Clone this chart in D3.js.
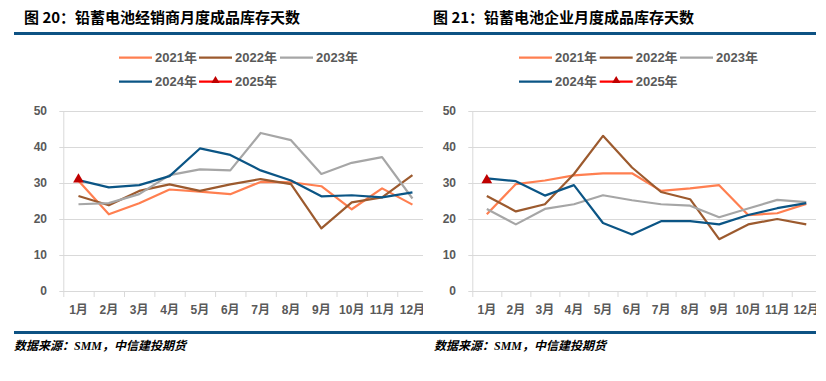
<!DOCTYPE html>
<html><head><meta charset="utf-8">
<script src="https://cdn.jsdelivr.net/npm/d3@7"></script>
<style>
body{margin:0;background:#fff;}
svg{display:block;}
</style>
</head><body>
<svg id="c" width="826" height="381"></svg>
<script>
const months = ["1月","2月","3月","4月","5月","6月","7月","8月","9月","10月","11月","12月"];
const yTicks = [0,10,20,30,40,50];
const seriesNames = ["2021年","2022年","2023年","2024年","2025年"];
const seriesColors = ["#FF7F50","#9C5A2E","#A6A6A6","#0B5585","#C00000"];

// 图20 经销商
const dealer2021 = [30.6,21.3,24.4,28.2,27.6,26.9,30.3,30.2,29.1,22.7,28.5,24.0];
const dealer2022 = [26.4,23.8,27.8,29.6,27.8,29.6,31.1,29.7,17.4,24.6,26.0,32.2];
const dealer2023 = [24.1,24.4,26.9,32.2,33.8,33.5,43.9,41.9,32.5,35.6,37.2,25.7];
const dealer2024 = [30.8,28.8,29.4,31.9,39.6,37.8,33.5,30.7,26.3,26.6,26.0,27.4];
const dealer2025 = [31.0];

// 图21 企业
const firm2021 = [21.3,29.7,30.7,32.1,32.7,32.7,27.8,28.5,29.4,21.1,21.6,24.2];
const firm2022 = [26.4,22.1,24.1,32.5,43.1,34.3,27.5,25.5,14.4,18.5,20.0,18.5];
const firm2023 = [22.8,18.5,22.8,24.1,26.6,25.2,24.1,23.7,20.5,22.9,25.3,24.7];
const firm2024 = [31.3,30.5,26.5,29.4,18.9,15.7,19.4,19.4,18.5,21.1,23.0,24.4];
const firm2025 = [30.8];

const titles = ["图 20：铅蓄电池经销商月度成品库存天数","图 21：铅蓄电池企业月度成品库存天数"];
const sourceText = "数据来源：SMM，中信建投期货";

const svg = d3.select("#c");
const FONT = "'Liberation Sans','Noto Sans CJK SC',sans-serif";
const GRAY = "#595959";

// header and footer rules
svg.append("line").attr("x1",14).attr("x2",816).attr("y1",33.5).attr("y2",33.5)
  .attr("stroke","#0D5283").attr("stroke-width",3);
svg.append("line").attr("x1",14).attr("x2",816).attr("y1",332.5).attr("y2",332.5)
  .attr("stroke","#0D5283").attr("stroke-width",3);

const panels = [
  {title:titles[0], tx:24, sx:14, data:[dealer2021,dealer2022,dealer2023,dealer2024,dealer2025],
   x0:63.3, bw:30.36, clip:[0,423], legX:[119,199,280], tickEnd:47},
  {title:titles[1], tx:433, sx:434, data:[firm2021,firm2022,firm2023,firm2024,firm2025],
   x0:472.3, bw:29.04, clip:[423,816], legX:[519,599.7,680], tickEnd:456}
];

panels.forEach((p,pi)=>{
  svg.append("text").attr("x",p.tx).attr("y",22.5).text(p.title)
    .attr("font-family","'Noto Sans CJK SC',sans-serif").attr("font-weight","bold")
    .attr("font-size",15).attr("fill","#000");
  svg.append("text").attr("x",p.sx).attr("y",350).text(sourceText)
    .attr("font-family","'Liberation Serif','Noto Sans CJK SC',serif").attr("font-style","italic")
    .attr("font-weight","bold").attr("font-size",12).attr("fill","#000");

  const cid = "clip"+pi;
  svg.append("clipPath").attr("id",cid).append("rect")
    .attr("x",p.clip[0]).attr("y",90).attr("width",p.clip[1]-p.clip[0]).attr("height",240);
  const g = svg.append("g").attr("clip-path",`url(#${cid})`);

  const x = d3.scaleBand().domain(months).range([p.x0, p.x0+p.bw*12]).padding(0);
  const y = d3.scaleLinear().domain([0,50]).range([291,111]);
  const right = p.x0+p.bw*12;

  // gridlines
  g.append("g").selectAll("line").data(yTicks.filter(d=>d>0)).join("line")
    .attr("x1",p.x0-4).attr("x2",right).attr("y1",d=>y(d)+0.5).attr("y2",d=>y(d)+0.5)
    .attr("stroke","#D9D9D9").attr("stroke-width",1);
  // y axis line
  g.append("line").attr("x1",p.x0+0.5).attr("x2",p.x0+0.5).attr("y1",y(50)).attr("y2",y(0))
    .attr("stroke","#D9D9D9");
  // x axis
  const xa = g.append("g").attr("transform",`translate(0,${y(0)+0.5})`)
    .call(d3.axisBottom(x).tickSize(0).tickPadding(14));
  xa.select(".domain").attr("stroke","#D9D9D9").attr("d",`M${p.x0-4},0H${right}`);
  xa.selectAll("text").attr("font-family",FONT).attr("font-weight","bold")
    .attr("font-size",12).attr("fill",GRAY);
  // category boundary ticks
  g.append("g").selectAll("line").data(d3.range(13)).join("line")
    .attr("x1",i=>p.x0+i*p.bw+0.5).attr("x2",i=>p.x0+i*p.bw+0.5)
    .attr("y1",y(0)).attr("y2",y(0)+6).attr("stroke","#D9D9D9");

  // y tick labels
  svg.append("g").selectAll("text").data(yTicks).join("text")
    .attr("x",p.tickEnd).attr("y",d=>y(d)).attr("dy","0.35em").attr("text-anchor","end")
    .text(d=>d).attr("font-family",FONT).attr("font-weight","bold").attr("font-size",12).attr("fill",GRAY);

  // lines
  const line = d3.line().x((d,i)=>x(months[i])+x.bandwidth()/2).y(d=>y(d));
  p.data.forEach((vals,si)=>{
    if(si<4){
      g.append("path").datum(vals).attr("d",line).attr("fill","none")
        .attr("stroke",seriesColors[si]).attr("stroke-width",2.2).attr("stroke-linejoin","round");
    } else {
      g.append("path").datum(vals).attr("d",line).attr("fill","none")
        .attr("stroke","#FF0000").attr("stroke-width",2.2);
      g.selectAll(null).data(vals).join("path")
        .attr("transform",(d,i)=>`translate(${x(months[i])+x.bandwidth()/2},${y(d)})`)
        .attr("d",d3.symbol(d3.symbolTriangle,50)).attr("fill",seriesColors[4]);
    }
  });

  // legend
  const legPos = [[p.legX[0],57.7],[p.legX[1],57.7],[p.legX[2],57.7],[p.legX[0],81.7],[p.legX[1],81.7]];
  seriesNames.forEach((nm,si)=>{
    const [lx,ly]=legPos[si];
    const lg = svg.append("g");
    lg.append("line").attr("x1",lx).attr("x2",lx+33).attr("y1",ly).attr("y2",ly)
      .attr("stroke", si===4?"#FF0000":seriesColors[si]).attr("stroke-width",2.2);
    if(si===4){
      lg.append("path").attr("transform",`translate(${lx+16.5},${ly-1})`)
        .attr("d",d3.symbol(d3.symbolTriangle,30)).attr("fill",seriesColors[4]);
    }
    lg.append("text").attr("x",lx+36).attr("y",ly).attr("dy","0.36em").text(nm)
      .attr("font-family",FONT).attr("font-weight","bold").attr("font-size",13).attr("fill",GRAY);
  });
});
</script>
</body></html>
